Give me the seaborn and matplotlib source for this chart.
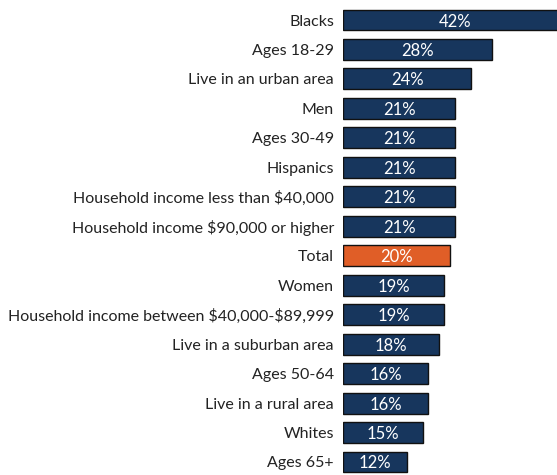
import matplotlib
matplotlib.use("Agg")
import matplotlib.pyplot as plt
import seaborn as sns
import pandas as pd

categories = ["Blacks", "Ages 18-29", "Live in an urban area", "Men", "Ages 30-49",
              "Hispanics", "Household income less than $40,000",
              "Household income $90,000 or higher", "Total", "Women",
              "Household income between $40,000-$89,999", "Live in a suburban area",
              "Ages 50-64", "Live in a rural area", "Whites", "Ages 65+"]
values = [42, 28, 24, 21, 21, 21, 21, 21, 20, 19, 19, 18, 16, 16, 15, 12]
highlight = "Total"

navy = "#17365d"
orange = "#e05e27"

df = pd.DataFrame({"cat": categories, "val": values})
df["grp"] = ["hi" if c == highlight else "lo" for c in categories]

sns.set_theme(style="white")
plt.rcParams["font.family"] = ["Lato", "DejaVu Sans"]

fig = plt.figure(figsize=(5.57, 4.75), dpi=100)
W, H = 557, 475
top_px, bot_px = 5.3, 476.7
ax = fig.add_axes([343 / W, 1 - bot_px / H, (557 - 343) / W, (bot_px - top_px) / H])

sns.barplot(data=df, y="cat", x="val", hue="grp", palette={"hi": orange, "lo": navy},
            orient="h", width=0.71, edgecolor="#111111", linewidth=1.0,
            legend=False, ax=ax, saturation=1)

ax.set_xlim(0, 40.1)
ax.set_ylim(len(categories) - 0.5, -0.5)
for i, v in enumerate(values):
    ax.text(v / 2, i + 0.05, f"{v}%", ha="center", va="center", color="white", fontsize=12)

ax.set_yticks(range(len(categories)))
ax.set_yticklabels([c.replace("$", r"\$") for c in categories])
ax.set_xlabel("")
ax.set_ylabel("")
ax.set_xticks([])
ax.tick_params(axis="y", length=0, pad=6.5, labelsize=11.5, labelcolor="#222222")
for s in ax.spines.values():
    s.set_visible(False)

fig.savefig("out.png", dpi=100)
